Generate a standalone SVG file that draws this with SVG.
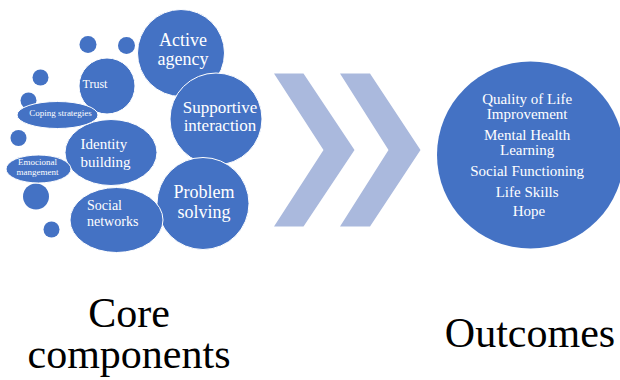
<svg xmlns="http://www.w3.org/2000/svg" width="620" height="380" viewBox="0 0 620 380">
<style>
.b{fill:#4472C4;stroke:#ffffff;stroke-width:1}
.s{fill:#4472C4}
.ch{fill:#AAB9DD}
text{font-family:"Liberation Serif","Times New Roman",serif;fill:#ffffff}
.c{text-anchor:middle}
.lbl{fill:#000000;text-anchor:middle;font-size:42px}
</style>
<rect width="620" height="380" fill="#ffffff"/>
<g id="small-dots">
<circle class="s" cx="88" cy="44.5" r="8.5"/>
<circle class="s" cx="126.5" cy="45.5" r="8.5"/>
<circle class="s" cx="40.5" cy="77.5" r="8"/>
<circle class="s" cx="28.5" cy="100.5" r="8"/>
<circle class="s" cx="18.5" cy="138" r="8"/>
<circle class="s" cx="36" cy="196.5" r="13"/>
<circle class="s" cx="51.5" cy="229.5" r="8"/>
</g>
<g id="trust">
<circle class="b" cx="107" cy="86" r="28"/>
<text x="95" y="87.5" class="c" font-size="12">Trust</text>
</g>
<g id="active-agency">
<circle class="b" cx="181" cy="53" r="43.5"/>
<text class="c" font-size="18"><tspan x="183" y="45.5">Active</tspan><tspan x="183" y="65">agency</tspan></text>
</g>
<g id="supportive-interaction">
<circle class="b" cx="216" cy="119" r="46"/>
<text class="c" font-size="17"><tspan x="220" y="112.5">Supportive</tspan><tspan x="220" y="130.5">interaction</tspan></text>
</g>
<g id="problem-solving">
<circle class="b" cx="203" cy="203.5" r="46"/>
<text class="c" font-size="18"><tspan x="204" y="197.5">Problem</tspan><tspan x="204" y="217.5">solving</tspan></text>
</g>
<g id="identity-building">
<ellipse class="b" cx="111" cy="152.5" rx="46" ry="33"/>
<text font-size="15"><tspan x="80.5" y="148.5">Identity</tspan><tspan x="80.5" y="166.5">building</tspan></text>
</g>
<g id="coping-strategies">
<ellipse class="b" cx="57.5" cy="115" rx="40.5" ry="13.5"/>
<text x="60.5" y="116" class="c" font-size="9">Coping strategies</text>
</g>
<g id="emocional-mangement">
<ellipse class="b" cx="38.5" cy="169" rx="32.5" ry="14"/>
<text class="c" font-size="9"><tspan x="37.5" y="165">Emocional</tspan><tspan x="37.5" y="174.5">mangement</tspan></text>
</g>
<g id="social-networks">
<ellipse class="b" cx="116.5" cy="220" rx="46.5" ry="32.5"/>
<text font-size="14"><tspan x="87" y="210">Social</tspan><tspan x="87" y="226">networks</tspan></text>
</g>
<g id="connectors">
<polygon class="ch" points="274,73.5 303.5,73.5 354.5,150 303.5,226.5 274,226.5 323.5,150"/>
<polygon class="ch" points="340,73.5 370,73.5 420.5,150 370,226.5 340,226.5 388.5,150"/>
</g>
<g id="outcomes-circle">
<circle class="s" cx="530.5" cy="155" r="93.5"/>
<text class="c" font-size="15">
<tspan x="529" y="104">Quality of Life</tspan>
<tspan x="529" y="119">Improvement</tspan>
<tspan x="529" y="140">Mental Health</tspan>
<tspan x="529" y="155">Learning</tspan>
<tspan x="529" y="176">Social Functioning</tspan>
<tspan x="529" y="196.5">Life Skills</tspan>
<tspan x="529" y="216">Hope</tspan>
</text>
</g>
<g id="core-components-label">
<text class="lbl"><tspan x="129" y="327">Core</tspan><tspan x="129" y="367.5">components</tspan></text>
</g>
<g id="outcomes-label">
<text class="lbl" x="530" y="347">Outcomes</text>
</g>
</svg>
